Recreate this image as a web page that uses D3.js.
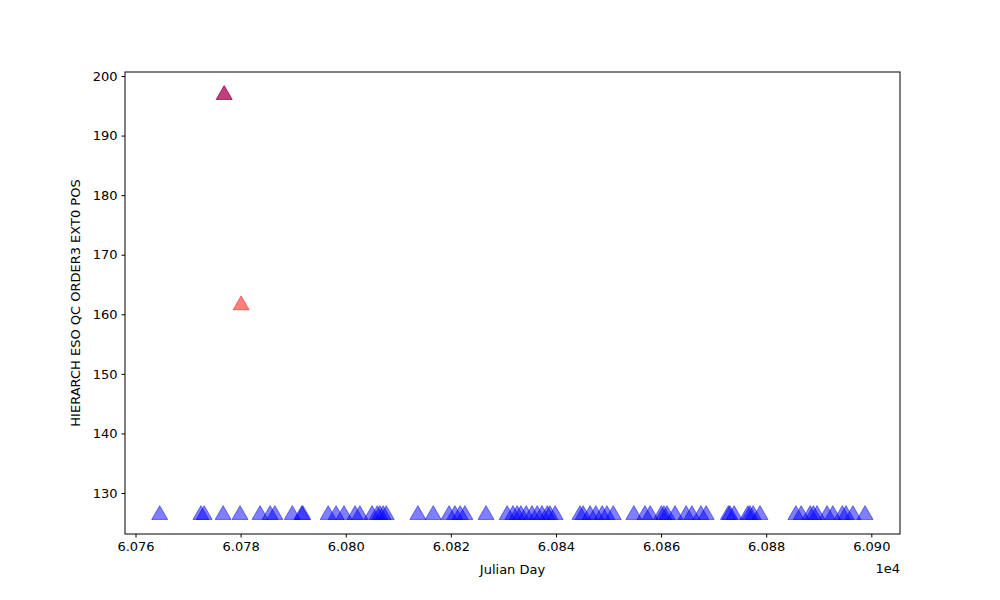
<!DOCTYPE html>
<html><head><meta charset="utf-8">
<script src="https://cdn.jsdelivr.net/npm/d3@7"></script>
<style>body{margin:0;background:#fff}text{font-family:"DejaVu Sans",sans-serif}</style>
</head><body><svg id="c" width="1000" height="600"></svg>
<script>
const blueDays = [60764.6,60772.45,60773.06,60776.67,60779.89,60783.7,60785.61,60786.52,60789.83,60791.64,60791.84,60796.66,60798.17,60799.67,60801.78,60802.69,60805.0,60806.0,60806.5,60807.11,60807.71,60813.73,60816.65,60819.66,60820.77,60821.77,60822.67,60826.69,60830.71,60831.81,60832.62,60833.32,60834.33,60835.43,60836.43,60837.34,60838.34,60838.85,60839.85,60844.57,60845.17,60846.48,60847.58,60848.79,60849.69,60850.9,60854.82,60856.93,60857.93,60860.04,60860.54,60861.14,60862.65,60864.76,60865.86,60867.57,60868.58,60872.8,60873.1,60873.9,60876.51,60876.91,60877.52,60878.82,60885.65,60886.66,60888.36,60888.97,60889.67,60891.58,60892.68,60894.49,60895.19,60896.5,60898.81];
const blueValue = 126.5;
const purpleDay = 60776.87, purpleValue = 197.0;
const redDays = [60776.87, 60780.09];
const redValues = [197.0, 161.7];
const xTicks = [60760,60780,60800,60820,60840,60860,60880,60900];
const yTicks = [130,140,150,160,170,180,190,200];

const svg = d3.select("#c");
const L=125,R=900,T=72,B=534;
const x = d3.scaleLinear().domain([60758.0,60905.46]).range([L,R]);
const y = d3.scaleLinear().domain([123.12,200.67]).range([B,T]);
const tri = d3.symbol().type(d3.symbolTriangle).size(110);

const g = svg.append("g");
g.selectAll(".b").data(blueDays).join("path")
 .attr("d",tri).attr("transform",d=>`translate(${x(d)},${y(blueValue)+1})`)
 .attr("fill","blue").attr("fill-opacity",0.5).attr("stroke","blue").attr("stroke-opacity",0.5);
g.append("path").attr("d",tri).attr("transform",`translate(${x(purpleDay)},${y(purpleValue)+1})`)
 .attr("fill","blue").attr("fill-opacity",0.5).attr("stroke","blue").attr("stroke-opacity",0.5);
g.selectAll(".r").data(redDays).join("path")
 .attr("d",tri).attr("transform",(d,i)=>`translate(${x(d)},${y(redValues[i])+1})`)
 .attr("fill","red").attr("fill-opacity",0.5).attr("stroke","red").attr("stroke-opacity",0.5);

const xa = svg.append("g").attr("transform",`translate(0,${B})`)
 .call(d3.axisBottom(x).tickValues(xTicks).tickFormat(d=>(d/1e4).toFixed(3)).tickSizeOuter(0).tickSize(3.5).tickPadding(4));
const ya = svg.append("g").attr("transform",`translate(${L},0)`)
 .call(d3.axisLeft(y).tickValues(yTicks).tickSizeOuter(0).tickSize(3.5).tickPadding(4));
[xa,ya].forEach(a=>{a.select(".domain").remove();a.selectAll("text").attr("font-size",13).attr("fill","#000").style("font-family","DejaVu Sans");a.selectAll("line").attr("stroke","#000");});
svg.append("rect").attr("x",L).attr("y",T).attr("width",R-L).attr("height",B-T).attr("fill","none").attr("stroke","#000").attr("stroke-width",1);
svg.append("text").attr("x",(L+R)/2).attr("y",574).attr("text-anchor","middle").attr("font-size",13).text("Julian Day");
svg.append("text").attr("x",900).attr("y",573).attr("text-anchor","end").attr("font-size",13).text("1e4");
svg.append("text").attr("transform",`translate(80,${(T+B)/2}) rotate(-90)`).attr("text-anchor","middle").attr("font-size",13).text("HIERARCH ESO QC ORDER3 EXT0 POS");
</script></body></html>
